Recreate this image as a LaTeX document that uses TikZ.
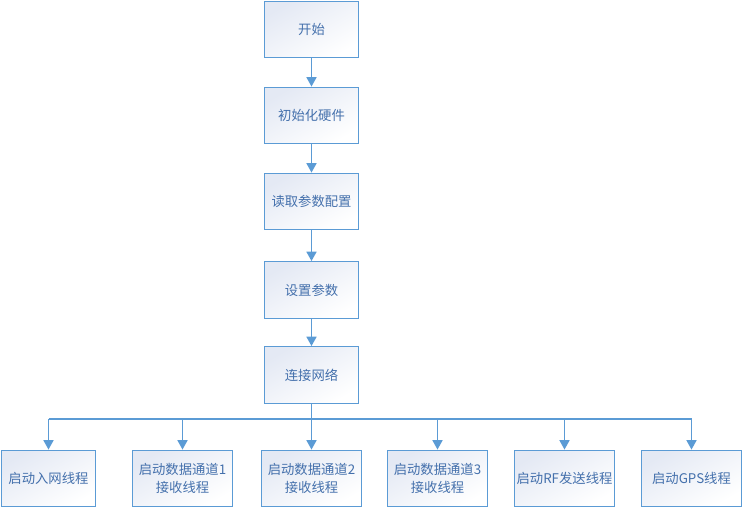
\documentclass[tikz,border=0pt]{standalone}
\usepackage{fontspec}
\setmainfont{Noto Sans CJK SC}
\usepackage{tikz}
\usetikzlibrary{calc,arrows.meta}
\definecolor{lineblue}{RGB}{91,155,213}
\definecolor{textblue}{RGB}{68,112,172}
\definecolor{boxtint}{RGB}{228,233,244}

\begin{document}
\begin{tikzpicture}[x=0.75pt, y=-0.75pt, >={Triangle[width=7.5pt,length=7pt]},
    box/.style={draw=lineblue, line width=0.9pt, top color=boxtint, bottom color=white,
      shading angle=30, text=textblue, font=\fontsize{10}{13.5}\selectfont,
      align=center, minimum width=71pt, minimum height=42.5pt, inner sep=0pt},
    wbox/.style={box, minimum width=74.5pt},
    flow/.style={->, draw=lineblue, line width=1pt}]
    \useasboundingbox (0,0) rectangle (750,518);
    \def\cx{311.5}
    \def\by{478.5}

    \node[box] (start)   at (\cx,29.5)  {开始};
    \node[box] (init)    at (\cx,115.5) {初始化硬件};
    \node[box] (readcfg) at (\cx,201.5) {读取参数配置};
    \node[box] (setpar)  at (\cx,290)   {设置参数};
    \node[box] (connect) at (\cx,375)   {连接网络};

    \node[box]  (t1) at (48.5,\by)  {启动入网线程};
    \node[wbox] (t2) at (182.5,\by) {启动数据通道1\\接收线程};
    \node[wbox] (t3) at (\cx,\by)   {启动数据通道2\\接收线程};
    \node[wbox] (t4) at (437.5,\by) {启动数据通道3\\接收线程};
    \node[wbox] (t5) at (564.5,\by) {启动RF发送线程};
    \node[wbox] (t6) at (691.5,\by) {启动GPS线程};

    \draw[flow] (start) -- (init);
    \draw[flow] (init) -- (readcfg);
    \draw[flow] (readcfg) -- (setpar);
    \draw[flow] (setpar) -- (connect);

    % bus line under the last box
    \coordinate (bus) at (\cx,419);
    \draw[lineblue, line width=1pt] (connect.south) -- (bus);
    \draw[lineblue, line width=1pt] (bus -| t1.north) -- (bus -| t6.north);
    \foreach \t in {t1,t2,t3,t4,t5,t6}
      \draw[flow] (bus -| \t.north) -- (\t.north);
  \end{tikzpicture}
\end{document}
